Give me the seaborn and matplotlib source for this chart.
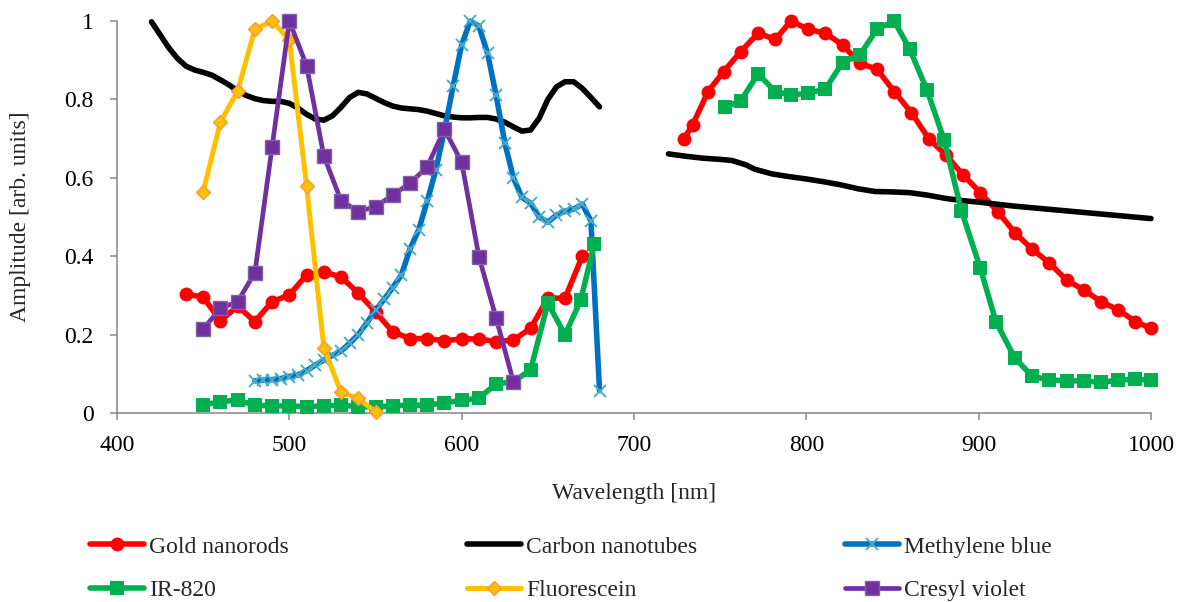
import matplotlib
matplotlib.use("Agg")
import matplotlib.pyplot as plt
from matplotlib.lines import Line2D
import seaborn as sns
import numpy as np

# ---------------- data ----------------
gold_x1 = [440, 450, 460, 470, 480, 490, 500, 510, 520, 530, 540, 550, 560, 570, 580, 590,
           600, 610, 620, 630, 640, 650, 660, 670]
gold_y1 = [0.303, 0.296, 0.235, 0.273, 0.233, 0.284, 0.301, 0.352, 0.36, 0.347, 0.306, 0.258,
           0.207, 0.19, 0.19, 0.184, 0.189, 0.189, 0.182, 0.186, 0.216, 0.293, 0.293, 0.40]
gold_x2 = [729, 734, 743, 752, 762, 772, 782, 791, 801, 811, 821, 831, 841, 851, 861, 871, 881,
           891, 901, 911, 921, 931, 941, 951, 961, 971, 981, 991, 1000]
gold_y2 = [0.70, 0.735, 0.82, 0.871, 0.922, 0.969, 0.953, 1.0, 0.979, 0.969, 0.939, 0.892, 0.877,
           0.82, 0.766, 0.70, 0.658, 0.607, 0.562, 0.514, 0.46, 0.418, 0.383, 0.339, 0.314,
           0.284, 0.263, 0.233, 0.216]

cnt_x1 = [420, 425, 430, 435, 440, 445, 450, 455, 460, 465, 470, 475, 480, 485, 490, 495, 500,
          505, 510, 515, 520, 525, 530, 535, 540, 545, 550, 555, 560, 565, 570, 575, 580, 585,
          590, 595, 600, 605, 610, 615, 620, 625, 630, 635, 640, 645, 650, 655, 660, 665, 670,
          675, 680]
cnt_y1 = [0.998, 0.965, 0.932, 0.905, 0.885, 0.875, 0.869, 0.862, 0.85, 0.837, 0.822, 0.81,
          0.802, 0.797, 0.795, 0.795, 0.79, 0.778, 0.762, 0.75, 0.747, 0.758, 0.78, 0.805, 0.818,
          0.814, 0.803, 0.792, 0.783, 0.778, 0.776, 0.774, 0.77, 0.764, 0.758, 0.755, 0.753,
          0.753, 0.754, 0.754, 0.75, 0.742, 0.73, 0.719, 0.722, 0.752, 0.80, 0.832, 0.845, 0.845,
          0.828, 0.805, 0.781]
cnt_x2 = [720, 730, 740, 750, 757, 765, 770, 780, 790, 800, 810, 820, 830, 840, 850, 860, 870,
          880, 890, 900, 910, 920, 930, 940, 950, 960, 970, 980, 990, 1000]
cnt_y2 = [0.661, 0.655, 0.65, 0.647, 0.644, 0.633, 0.622, 0.61, 0.603, 0.597, 0.59, 0.582,
          0.572, 0.565, 0.564, 0.562, 0.556, 0.548, 0.542, 0.538, 0.533, 0.528, 0.524, 0.52,
          0.516, 0.512, 0.508, 0.504, 0.50, 0.496]

mb_x = [480, 485, 490, 495, 500, 505, 510, 515, 520, 525, 530, 535, 540, 545, 550, 555, 560,
        565, 570, 575, 580, 585, 590, 595, 600, 605, 610, 615, 620, 625, 630, 635, 640, 645,
        650, 655, 660, 665, 670, 675, 680]
mb_y = [0.082, 0.084, 0.085, 0.088, 0.093, 0.097, 0.108, 0.122, 0.135, 0.147, 0.158, 0.178,
        0.20, 0.23, 0.262, 0.29, 0.32, 0.352, 0.418, 0.467, 0.54, 0.62, 0.72, 0.833, 0.939, 1.0,
        0.987, 0.918, 0.81, 0.69, 0.60, 0.55, 0.535, 0.50, 0.487, 0.505, 0.515, 0.52, 0.533,
        0.49, 0.057]

ir_x1 = [450, 460, 470, 480, 490, 500, 510, 520, 530, 540, 550, 560, 570, 580, 590, 600, 610,
         620, 630, 640, 650, 660, 669, 677]
ir_y1 = [0.02, 0.029, 0.033, 0.02, 0.018, 0.018, 0.016, 0.018, 0.02, 0.016, 0.016, 0.018, 0.02,
         0.02, 0.026, 0.032, 0.038, 0.074, 0.08, 0.11, 0.28, 0.2, 0.287, 0.431]
ir_x2 = [753, 762, 772, 782, 791, 801, 811, 821, 831, 841, 851, 860, 870, 880, 890, 901, 910,
         921, 931, 941, 951, 961, 971, 981, 991, 1000]
ir_y2 = [0.78, 0.797, 0.865, 0.82, 0.811, 0.816, 0.826, 0.894, 0.913, 0.979, 1.0, 0.928, 0.824,
         0.696, 0.516, 0.369, 0.233, 0.14, 0.094, 0.084, 0.082, 0.082, 0.078, 0.084, 0.086,
         0.084]

fl_x = [450, 460, 470, 480, 490, 500, 510, 520, 530, 540, 550]
fl_y = [0.565, 0.742, 0.821, 0.979, 1.0, 0.952, 0.579, 0.167, 0.053, 0.037, 0.003]

cv_x = [450, 460, 470, 480, 490, 500, 510, 520, 530, 540, 550, 560, 570, 580, 590, 600, 610,
        620, 630]
cv_y = [0.214, 0.267, 0.284, 0.358, 0.679, 1.0, 0.886, 0.656, 0.542, 0.514, 0.526, 0.556,
        0.586, 0.628, 0.724, 0.64, 0.399, 0.242, 0.08]

labels = ["Gold nanorods", "Carbon nanotubes", "Methylene blue", "IR-820", "Fluorescein",
          "Cresyl violet"]
x_ticks = [400, 500, 600, 700, 800, 900, 1000]
y_ticks = [0, 0.2, 0.4, 0.6, 0.8, 1]
y_tick_labels = ["0", "0.2", "0.4", "0.6", "0.8", "1"]

# ---------------- style ----------------
sns.set_style("ticks")
plt.rcParams['font.family'] = ['Liberation Serif', 'DejaVu Serif']

GREY = "#868686"
LW = 4.0
styles = {
    "Gold nanorods": dict(color="#FF0000", marker="o", markersize=10, markeredgewidth=0,
                          markerfacecolor="#FF0000"),
    "Carbon nanotubes": dict(color="#000000", marker=None),
    "Methylene blue": dict(color="#0070C0", marker="x", markersize=8, markeredgewidth=1.4,
                           markeredgecolor="#4BACC6"),
    "IR-820": dict(color="#00B050", marker="s", markersize=9.5, markeredgewidth=0,
                   markerfacecolor="#00B050"),
    "Fluorescein": dict(color="#FFC000", marker="D", markersize=7, markeredgewidth=1,
                        markerfacecolor="#FFC000", markeredgecolor="#F79646"),
    "Cresyl violet": dict(color="#7030A0", marker="s", markersize=10, markeredgewidth=1,
                          markerfacecolor="#7030A0", markeredgecolor="#8064A2"),
}
lws = {"Cresyl violet": 3.4, "Fluorescein": 3.6}

series = [
    (labels[0], [(gold_x1, gold_y1), (gold_x2, gold_y2)]),
    (labels[1], [(cnt_x1, cnt_y1), (cnt_x2, cnt_y2)]),
    (labels[2], [(mb_x, mb_y)]),
    (labels[3], [(ir_x1, ir_y1), (ir_x2, ir_y2)]),
    (labels[4], [(fl_x, fl_y)]),
    (labels[5], [(cv_x, cv_y)]),
]

fig = plt.figure(figsize=(11.8, 6.02), dpi=100)
ax = fig.add_axes([117 / 1180, 1 - 413 / 602, (1151 - 117) / 1180, 392 / 602])

for z, (name, segs) in enumerate(series):
    st = styles[name]
    for xs, ys in segs:
        sns.lineplot(x=xs, y=ys, ax=ax, sort=False, estimator=None, legend=False,
                     linewidth=lws.get(name, LW), zorder=3 + z, clip_on=False,
                     solid_joinstyle="round", solid_capstyle="round", **st)

ax.set_xlim(400, 1000)
ax.set_ylim(0, 1)
ax.set_xticks(x_ticks)
ax.set_yticks(y_ticks)
ax.set_yticklabels(y_tick_labels)

for s in ["top", "right"]:
    ax.spines[s].set_visible(False)
for s in ["left", "bottom"]:
    ax.spines[s].set_color(GREY)
    ax.spines[s].set_linewidth(1.1)

ax.tick_params(axis="both", direction="out", length=5, width=1.1, color=GREY,
               labelsize=17, labelcolor="black")
ax.tick_params(axis="y", pad=12)
ax.tick_params(axis="x", pad=11)

ax.set_xlabel("Wavelength [nm]", fontsize=17)
ax.xaxis.set_label_coords(0.5, -0.178)
ax.set_ylabel("Amplitude [arb. units]", fontsize=17, va="center")
ax.yaxis.set_label_coords(-0.093, 0.5)

# ---------------- legend ----------------
def handle(name):
    st = dict(styles[name])
    return Line2D([], [], linewidth=lws.get(name, LW), **st)

cols = [([labels[0], labels[3]], 90), ([labels[1], labels[4]], 467),
        ([labels[2], labels[5]], 845)]
for names, px in cols:
    fig.legend([handle(n) for n in names], names, loc="upper left",
               bbox_to_anchor=(px / 1180, 1 - 536 / 602), frameon=False,
               fontsize=17, borderpad=0, borderaxespad=0, handlelength=2.3,
               handletextpad=0.2, labelspacing=0.95)

fig.savefig("out.png", dpi=100)
